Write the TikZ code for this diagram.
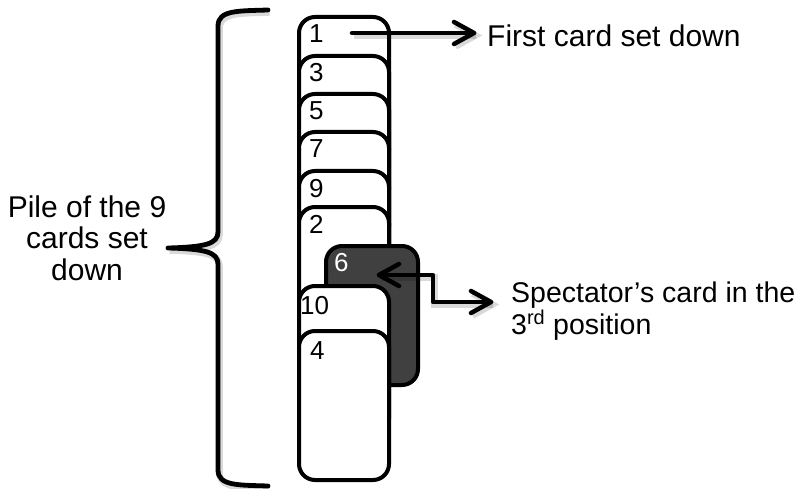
\documentclass[tikz,border=0pt]{standalone}
\usepackage{fontspec}
\setmainfont{Liberation Sans}
\usepackage{tikz}
\usetikzlibrary{calc}

\tikzset{
  card/.style={draw=black, line width=4pt, fill=white, rounded corners=16pt,
    anchor=north west, minimum width=90pt, minimum height=149pt, inner sep=0pt},
  darkcard/.style={card, fill=black!75, minimum width=92pt, minimum height=139pt},
  cardnum/.style={anchor=base west, inner sep=0pt, font=\fontsize{26}{26}\selectfont},
  thickline/.style={line width=4.5pt, line cap=round, line join=round},
  shadowed/.style={preaction={draw=black, opacity=0.15, line width=6.5pt,
    transform canvas={xshift=1.5pt, yshift=-2.5pt}}},
  caption/.style={inner sep=0pt, font=\fontsize{30}{31.5}\selectfont}
}

\begin{document}
\begin{tikzpicture}[x=1pt,y=1pt,yscale=-1,xscale=1]
\useasboundingbox (0,0) rectangle (805,489);

%Cards set down, the first one at the back
\foreach \n/\y in {1/15, 3/54, 5/92, 7/130, 9/169, 2/205} {
  \node[card] (c\n) at (297,\y) {};
  \node[cardnum] (n\n) at ($(c\n.north west)+(12,28)$) {\n};
}
%Spectator's card
\node[darkcard] (c6) at (324,244) {};
\node[cardnum, text=white] (n6) at ($(c6.north west)+(10,27)$) {6};
\node[card] (c10) at (297,284) {};
\node[cardnum] (n10) at ($(c10.north west)+(3,30)$) {10};
\node[card] (c4) at (297,329) {};
\node[cardnum] (n4) at ($(c4.north west)+(13,30)$) {4};

%Shape: Brace
\draw[thickline, line width=4.8pt, shadowed] (268,10) .. controls (238,11) and (218,10) .. (218,26) -- (218,232)
  .. controls (218,244) and (205,247) .. (168,248)
  .. controls (205,249) and (218,252) .. (218,264) -- (218,470)
  .. controls (218,486) and (238,485) .. (268,486);

% Text Node
\node[caption, align=center] (pile) at (87,238) {Pile of the 9\\cards set\\down};
% Text Node
\node[caption, anchor=base west] (first) at (487,47) {First card set down};
% Text Node
\node[caption, font=\fontsize{28.5}{31.5}\selectfont, anchor=base west, align=left] (spec) at (511,334) {Spectator’s card in the\\3\textsuperscript{rd} position};

%Arrow to the first card
\coordinate (firststart) at (352,33);
\coordinate (firsttip) at (474,33);
\draw[thickline, shadowed] (firststart) -- (firsttip);
\draw[thickline, shadowed] (firsttip) ++(-20,-11) -- (firsttip) -- ++(-20,11);

%Arrow between card 6 and its caption
\coordinate (spectip) at (379,275);
\coordinate (specend) at (491,302);
\draw[thickline, shadowed] (spectip) -- ++(54,0) |- (specend);
\draw[thickline] (spectip) ++(20,-11) -- (spectip) -- ++(20,11);
\draw[thickline, shadowed] (specend) ++(-20,-11) -- (specend) -- ++(-20,11);

\end{tikzpicture}
\end{document}
